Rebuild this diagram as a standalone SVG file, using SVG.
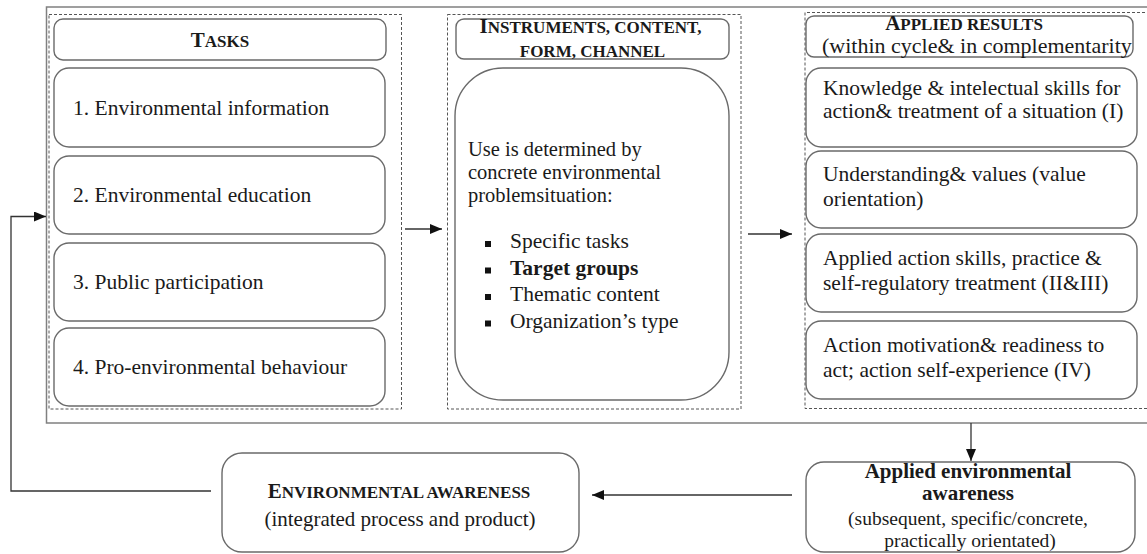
<svg xmlns="http://www.w3.org/2000/svg" width="1147" height="554" viewBox="0 0 1147 554">
  <defs>
    <style>
      text { font-family: "Liberation Serif", "Times New Roman", serif; fill: #1a1a1a; }
      .t { font-size: 21.5px; }
      .sc { font-weight: bold; }
      .big { font-size: 21px; }
      .small { font-size: 17px; }
      .box { fill: #fff; stroke: #6a6a6a; stroke-width: 1.4; }
      .dash { fill: none; stroke: #555; stroke-width: 1; stroke-dasharray: 3 2; }
      .frame { fill: none; stroke: #808080; stroke-width: 1.5; }
      .conn { fill: none; stroke: #333; stroke-width: 1.3; }
    </style>
    <marker id="arrow" markerUnits="userSpaceOnUse" markerWidth="12" markerHeight="10" refX="12" refY="5" orient="auto">
      <path d="M0,0 L12,5 L0,10 z" fill="#111"/>
    </marker>
  </defs>

  <rect width="1147" height="554" fill="#fff"/>

  <!-- outer frame around the three columns (runs off the right edge) -->
  <path class="frame" d="M1150 7 H46.5 V423 H1150"/>

  <!-- column containers -->
  <rect class="dash" x="49" y="14.5" width="352.5" height="394.5"/>
  <rect class="dash" x="447.5" y="14.5" width="293.5" height="394.5"/>
  <path class="dash" d="M1150 12.5 H805 V408.5 H1150"/>

  <!-- Tasks column -->
  <g id="tasks-header">
    <rect class="box" x="54" y="19" width="332" height="41" rx="9"/>
    <text class="sc" x="220" y="47" text-anchor="middle"><tspan class="big">T</tspan><tspan class="small">ASKS</tspan></text>
  </g>
  <g id="task-1">
    <rect class="box" x="54" y="68" width="331" height="79" rx="15"/>
    <text class="t" x="73" y="115">1. Environmental information</text>
  </g>
  <g id="task-2">
    <rect class="box" x="54" y="156" width="331" height="78" rx="15"/>
    <text class="t" x="73" y="202">2. Environmental education</text>
  </g>
  <g id="task-3">
    <rect class="box" x="54" y="243" width="331" height="78" rx="15"/>
    <text class="t" x="73" y="289">3. Public participation</text>
  </g>
  <g id="task-4">
    <rect class="box" x="54" y="328" width="331" height="78" rx="15"/>
    <text class="t" x="73" y="374">4. Pro-environmental behaviour</text>
  </g>

  <!-- Instruments column -->
  <g id="instruments-header">
    <rect class="box" x="456" y="19" width="273" height="40" rx="8"/>
    <text class="sc" text-anchor="middle">
      <tspan x="592.5" y="33"><tspan class="big">I</tspan><tspan class="small">NSTRUMENTS, CONTENT,</tspan></tspan>
      <tspan class="small" x="592.5" y="57">FORM, CHANNEL</tspan>
    </text>
  </g>
  <g id="instruments-body">
    <rect class="box" x="455" y="68" width="274" height="332" rx="48"/>
    <text font-size="20.5">
      <tspan x="468" y="156">Use is determined by</tspan>
      <tspan x="468" y="179">concrete environmental</tspan>
      <tspan x="468" y="202">problemsituation:</tspan>
    </text>
    <rect x="485" y="241" width="6" height="6" fill="#111"/>
    <rect x="485" y="267.5" width="6" height="6" fill="#111"/>
    <rect x="485" y="294" width="6" height="6" fill="#111"/>
    <rect x="485" y="320.5" width="6" height="6" fill="#111"/>
    <text class="t">
      <tspan x="510" y="248">Specific tasks</tspan>
      <tspan x="510" y="274.5" font-weight="bold">Target groups</tspan>
      <tspan x="510" y="301">Thematic content</tspan>
      <tspan x="510" y="327.5">Organization’s type</tspan>
    </text>
  </g>

  <!-- Applied results column -->
  <g id="results-header">
    <rect class="box" x="806" y="16" width="327" height="41" rx="8"/>
    <text>
      <tspan class="sc" x="966" y="30" text-anchor="middle"><tspan class="big">A</tspan><tspan class="small">PPLIED RESULTS</tspan></tspan>
      <tspan x="822" y="53" font-size="22">(within cycle&amp; in complementarity</tspan>
    </text>
  </g>
  <g id="result-1">
    <rect class="box" x="806" y="68" width="331" height="79" rx="15"/>
    <text class="t"><tspan x="823" y="95">Knowledge &amp; intelectual skills for</tspan><tspan x="823" y="118">action&amp; treatment of a situation (I)</tspan></text>
  </g>
  <g id="result-2">
    <rect class="box" x="806" y="151" width="331" height="77" rx="15"/>
    <text class="t"><tspan x="823" y="181">Understanding&amp; values (value</tspan><tspan x="823" y="206">orientation)</tspan></text>
  </g>
  <g id="result-3">
    <rect class="box" x="806" y="234" width="331" height="78" rx="15"/>
    <text class="t"><tspan x="823" y="265">Applied action skills, practice &amp;</tspan><tspan x="823" y="290">self-regulatory treatment (II&amp;III)</tspan></text>
  </g>
  <g id="result-4">
    <rect class="box" x="806" y="321" width="331" height="78" rx="15"/>
    <text class="t"><tspan x="823" y="352">Action motivation&amp; readiness to</tspan><tspan x="823" y="377">act; action self-experience (IV)</tspan></text>
  </g>

  <!-- Bottom row -->
  <g id="environmental-awareness">
    <rect class="box" x="222" y="453" width="357" height="99" rx="20"/>
    <text text-anchor="middle">
      <tspan class="sc" x="401" y="498"><tspan class="big">E</tspan><tspan class="small">NVIRONMENTAL AWARENESS</tspan></tspan>
      <tspan x="400" y="526" font-size="21">(integrated process and product)</tspan>
    </text>
  </g>
  <g id="applied-awareness">
    <rect class="box" x="806" y="462" width="329" height="90" rx="18"/>
    <text text-anchor="middle">
      <tspan x="970" y="478" font-size="21" font-weight="bold">Applied environmental</tspan>
      <tspan x="970" y="500" font-size="21" font-weight="bold">awareness</tspan>
      <tspan x="970" y="525" font-size="19.5">(subsequent, specific/concrete,</tspan>
      <tspan x="970" y="547" font-size="19.5">practically orientated)</tspan>
    </text>
  </g>

  <!-- Connectors -->
  <g id="connectors">
    <path class="conn" d="M405 229 H442" marker-end="url(#arrow)"/>
    <path class="conn" d="M748 234 H792" marker-end="url(#arrow)"/>
    <path class="conn" d="M971 423 V461" marker-end="url(#arrow)"/>
    <path class="conn" d="M792 495 H592" marker-end="url(#arrow)"/>
    <path class="conn" d="M211 491 H11 V216.5 H46" marker-end="url(#arrow)"/>
  </g>
</svg>
